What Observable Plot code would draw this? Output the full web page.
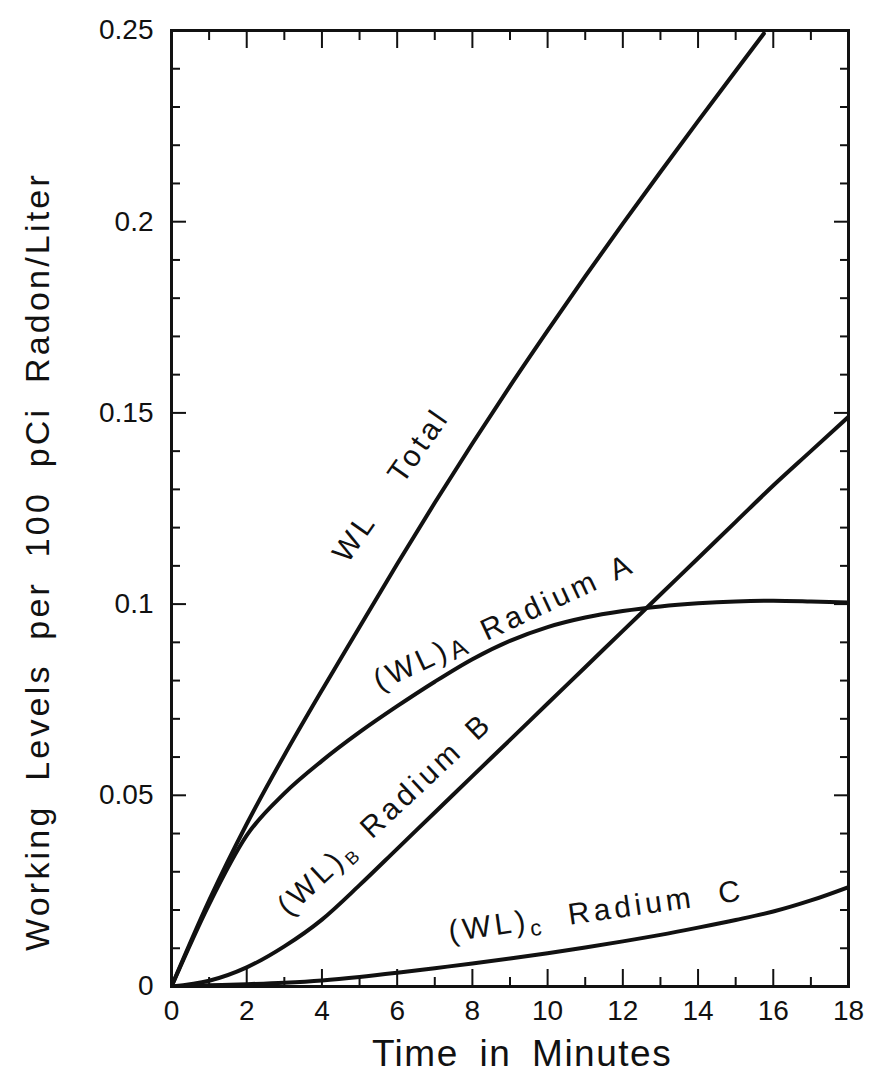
<!DOCTYPE html>
<html><head><meta charset="utf-8">
<script src="https://cdn.jsdelivr.net/npm/d3@7"></script>
<script src="https://cdn.jsdelivr.net/npm/@observablehq/plot@0.6"></script>
<style>
  body { margin: 0; background: #fff; }
  svg { display: block; }
</style>
</head>
<body>
<div id="chart"></div>
<script>
// ---- data ----
const timeTotal = [0, 1, 2, 3, 4, 5, 6, 7, 8, 9, 10, 11, 12, 13, 14, 15, 15.75];
const wlTotal   = [0, 0.0225, 0.0425, 0.0605, 0.0775, 0.094, 0.1105, 0.1265, 0.142, 0.157, 0.1715, 0.1857, 0.1995, 0.2130, 0.2263, 0.2394, 0.2492];

const timeSeries = [0, 1, 2, 3, 4, 5, 6, 7, 8, 9, 10, 11, 12, 13, 14, 15, 16, 17, 18];
const wlA = [0, 0.0215, 0.0395, 0.0505, 0.059, 0.0665, 0.0733, 0.0797, 0.0856, 0.0904, 0.0940, 0.0965, 0.0982, 0.0994, 0.1002, 0.1007, 0.1009, 0.1007, 0.1004];
const wlB = [0, 0.0015, 0.005, 0.0105, 0.0175, 0.0265, 0.036, 0.0455, 0.055, 0.0645, 0.074, 0.0835, 0.093, 0.1025, 0.112, 0.1215, 0.131, 0.140, 0.149];
const wlC = [0, 0.0003, 0.0006, 0.001, 0.0016, 0.0025, 0.0036, 0.0048, 0.006, 0.0073, 0.0087, 0.0102, 0.0118, 0.0135, 0.0154, 0.0174, 0.0196, 0.0225, 0.026];

const xMajor = [0, 2, 4, 6, 8, 10, 12, 14, 16, 18];
const xTickLabels = ["0", "2", "4", "6", "8", "10", "12", "14", "16", "18"];
const xMinor = [1, 3, 5, 7, 9, 11, 13, 15, 17];
const yMajor = [0, 0.05, 0.1, 0.15, 0.2, 0.25];
const yTickLabels = ["0", "0.05", "0.1", "0.15", "0.2", "0.25"];
const yMinor = [0.01, 0.02, 0.03, 0.04, 0.06, 0.07, 0.08, 0.09, 0.11, 0.12, 0.13, 0.14, 0.16, 0.17, 0.18, 0.19, 0.21, 0.22, 0.23, 0.24];

const xTitle = "Time in Minutes";
const yTitle = "Working Levels per 100 pCi Radon/Liter";

// curve annotations (anchor in data units = centre of the text baseline)
const curveLabels = [
  {text: "WL Total",        x: 6.05,  y: 0.1297, rotate: -55, ws: 33, sub: null},
  {text: "(WL)_A Radium A", x: 8.95,  y: 0.0930, rotate: -25, ws: 4,  sub: {size: "0.85em", dy: 4}},
  {text: "(WL)_B Radium B", x: 5.85,  y: 0.0432, rotate: -43, ws: 4,  sub: {size: "0.6em", dy: 6}},
  {text: "(WL)_c Radium C", x: 11.33, y: 0.0172, rotate: -8,  ws: 12, sub: {size: "0.75em", dy: 6}}
];

const series = [
  {name: "Total", t: timeTotal,  v: wlTotal},
  {name: "A",     t: timeSeries, v: wlA},
  {name: "B",     t: timeSeries, v: wlB},
  {name: "C",     t: timeSeries, v: wlC}
];
const rows = series.flatMap(s => s.t.map((t, i) => ({series: s.name, t, v: s.v[i]})));

const ink = "#111";
const font = "Liberation Sans";

const chart = Plot.plot({
  width: 873,
  height: 1075,
  marginLeft: 171,
  marginRight: 25,
  marginTop: 30,
  marginBottom: 89,
  x: {domain: [0, 18], axis: null},
  y: {domain: [0, 0.25], axis: null},
  style: {fontFamily: font, color: ink, background: "#fff", overflow: "visible"},
  marks: [
    // ticks (inward)
    Plot.axisX(xMinor, {anchor: "bottom", tickSize: -9, fill: "none", label: null, strokeWidth: 2, stroke: ink}),
    Plot.axisX(xMajor, {anchor: "bottom", tickSize: -17, tickPadding: 31, fontSize: 28, label: null, strokeWidth: 2, stroke: ink, fill: ink,
      tickFormat: d => xTickLabels[xMajor.indexOf(d)]}),
    Plot.axisX(xMinor, {anchor: "top", tickSize: -9, fill: "none", label: null, strokeWidth: 2, stroke: ink}),
    Plot.axisX(xMajor, {anchor: "top", tickSize: -17, fill: "none", label: null, strokeWidth: 2, stroke: ink}),
    Plot.axisY(yMinor, {anchor: "left", tickSize: -9, fill: "none", label: null, strokeWidth: 2, stroke: ink}),
    Plot.axisY(yMajor, {anchor: "left", tickSize: -15, tickPadding: 33, fontSize: 28, label: null, strokeWidth: 2, stroke: ink, fill: ink,
      tickFormat: d => yTickLabels[yMajor.indexOf(d)]}),
    Plot.axisY(yMinor, {anchor: "right", tickSize: -9, fill: "none", label: null, strokeWidth: 2, stroke: ink}),
    Plot.axisY(yMajor, {anchor: "right", tickSize: -15, fill: "none", label: null, strokeWidth: 2, stroke: ink}),
    Plot.frame({stroke: ink, strokeWidth: 3}),
    // curves
    Plot.line(rows, {x: "t", y: "v", z: "series", stroke: ink, strokeWidth: 4, curve: "monotone-x", clip: true}),
    // curve labels
    ...curveLabels.map(l => Plot.text([l], {
      x: "x", y: "y", text: "text", rotate: l.rotate,
      textAnchor: "middle", lineAnchor: "bottom",
      fontSize: 30, fill: ink
    })),
    // axis titles
    Plot.text([xTitle], {frameAnchor: "bottom", dx: 12, dy: 79, lineAnchor: "bottom", textAnchor: "middle",
      fontSize: 37, fill: ink}),
    Plot.text([yTitle], {frameAnchor: "left", rotate: -90, dx: -123, dy: 53, lineAnchor: "bottom", textAnchor: "middle",
      fontSize: 34, fill: ink})
  ]
});

document.getElementById("chart").appendChild(chart);

const svg = d3.select(chart);
svg.selectAll("text").each(function () {
  const el = d3.select(this);
  const t = this.textContent;
  if (t === xTitle) {
    el.style("letter-spacing", "1.5px").style("word-spacing", "9px");
    return;
  }
  if (t === yTitle) {
    el.style("letter-spacing", "3.2px").style("word-spacing", "11px");
    return;
  }
  const l = curveLabels.find(c => c.text === t);
  if (!l) return;
  el.style("letter-spacing", "4px").style("word-spacing", l.ws + "px");
  if (!l.sub) return;
  const m = t.match(/^(.*)_(\w)(.*)$/);
  if (!m) return;
  this.textContent = "";
  el.append("tspan").text(m[1]);
  el.append("tspan").attr("dy", l.sub.dy).attr("font-size", l.sub.size).text(m[2]);
  el.append("tspan").attr("dy", -l.sub.dy).text(m[3]);
});
</script>
</body></html>
